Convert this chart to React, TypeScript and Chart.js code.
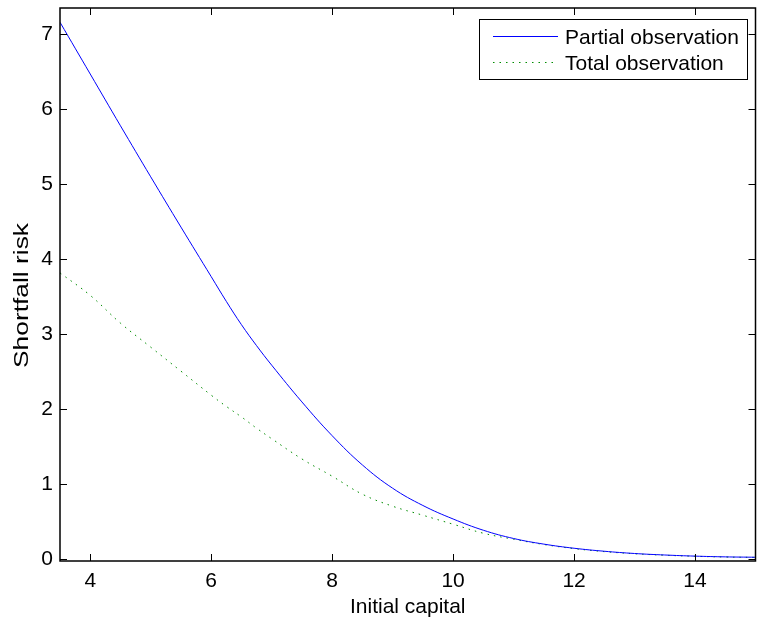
import { useEffect, useRef } from 'react';
import { Chart, registerables } from 'chart.js';

Chart.register(...registerables);

const capital = [3.5, 4, 4.5, 5, 5.5, 6, 6.25, 6.5, 6.75, 7, 7.5, 8, 8.5, 9, 9.5, 10, 10.5, 11, 11.5, 12, 12.5, 13, 13.5, 14, 14.5, 15];
const partialObs = [7.16, 6.47, 5.78, 5.1, 4.43, 3.77, 3.44, 3.13, 2.85, 2.59, 2.1, 1.65, 1.26, 0.95, 0.72, 0.54, 0.39, 0.28, 0.205, 0.15, 0.11, 0.08, 0.06, 0.045, 0.035, 0.03];
const totalObs = [3.82, 3.52, 3.15, 2.83, 2.51, 2.19, 2.04, 1.9, 1.75, 1.61, 1.34, 1.11, 0.87, 0.71, 0.59, 0.47, 0.35, 0.27, 0.2, 0.145, 0.105, 0.077, 0.057, 0.043, 0.033, 0.028];
const xTicks = [4, 6, 8, 10, 12, 14];
const yTicks = [0, 1, 2, 3, 4, 5, 6, 7];
const seriesNames = ['Partial observation', 'Total observation'];
const axisTitles = { x: 'Initial capital', y: 'Shortfall risk' };

const FONT = '"Liberation Sans", Arial, Helvetica, sans-serif';

const framePlugin = {
  id: 'frame',
  afterDatasetsDraw(chart: any) {
    const { ctx, chartArea } = chart;
    const { left, right, top, bottom } = chartArea;
    const xs = chart.scales.x;
    const ys = chart.scales.y;
    const tl = 7;
    ctx.save();
    ctx.strokeStyle = '#000';
    ctx.lineWidth = 1;
    ctx.beginPath();
    xTicks.forEach((v) => {
      const px = Math.round(xs.getPixelForValue(v)) + 0.5;
      ctx.moveTo(px, bottom);
      ctx.lineTo(px, bottom - tl);
      ctx.moveTo(px, top);
      ctx.lineTo(px, top + tl);
    });
    yTicks.forEach((v) => {
      const py = Math.round(ys.getPixelForValue(v)) + 0.5;
      ctx.moveTo(left, py);
      ctx.lineTo(left + tl, py);
      ctx.moveTo(right, py);
      ctx.lineTo(right - tl, py);
    });
    ctx.stroke();
    ctx.lineWidth = 1.5;
    ctx.strokeRect(left, top, right - left, bottom - top);

    // y axis title (stretched like the reference rendering)
    ctx.save();
    ctx.font = `21px ${FONT}`;
    ctx.fillStyle = '#000';
    ctx.textAlign = 'center';
    ctx.textBaseline = 'alphabetic';
    ctx.translate(28, (top + bottom) / 2 + 11);
    ctx.rotate(-Math.PI / 2);
    const w = ctx.measureText(axisTitles.y).width;
    ctx.scale(145 / w, 1);
    ctx.fillText(axisTitles.y, 0, 0);
    ctx.restore();

    // legend
    const bx = 479.5, by = 19.5, bw = 268, bh = 60;
    ctx.fillStyle = '#fff';
    ctx.fillRect(bx, by, bw, bh);
    ctx.lineWidth = 1;
    ctx.strokeStyle = '#000';
    ctx.strokeRect(bx, by, bw, bh);
    const rows = [
      { y: 36, text: 44 },
      { y: 62, text: 70 },
    ];
    chart.data.datasets.forEach((ds: any, i: number) => {
      const r = rows[i];
      ctx.save();
      ctx.strokeStyle = ds.borderColor;
      ctx.lineWidth = ds.borderWidth;
      ctx.setLineDash(ds.borderDash || []);
      ctx.beginPath();
      ctx.moveTo(493, r.y + 0.5);
      ctx.lineTo(558, r.y + 0.5);
      ctx.stroke();
      ctx.restore();
      ctx.fillStyle = '#000';
      ctx.font = `21px ${FONT}`;
      ctx.textBaseline = 'alphabetic';
      ctx.textAlign = 'left';
      ctx.fillText(ds.label, 565, r.text);
    });
    ctx.restore();
  },
};

export default function App() {
  const ref = useRef<HTMLCanvasElement | null>(null);
  useEffect(() => {
    if (!ref.current) return;
    const chart = new Chart(ref.current, {
      type: 'line',
      data: {
        labels: capital,
        datasets: [
          {
            label: seriesNames[0],
            data: capital.map((c, i) => ({ x: c, y: partialObs[i] })),
            borderColor: 'rgb(0,0,255)',
            borderWidth: 1,
            pointRadius: 0,
            tension: 0.4,
          },
          {
            label: seriesNames[1],
            data: capital.map((c, i) => ({ x: c, y: totalObs[i] })),
            borderColor: 'rgb(0,140,0)',
            borderWidth: 1,
            borderDash: [1.5, 5],
            pointRadius: 0,
            tension: 0.4,
          },
        ],
      },
      options: {
        animation: false,
        responsive: false,
        maintainAspectRatio: false,
        layout: { padding: { top: 8, right: 1.5, left: 0, bottom: 0 } },
        plugins: { legend: { display: false }, tooltip: { enabled: false } },
        scales: {
          x: {
            type: 'linear',
            min: 3.5,
            max: 15,
            grid: { display: false, drawTicks: false },
            border: { display: false },
            afterBuildTicks: (s: any) => {
              s.ticks = xTicks.map((v) => ({ value: v }));
            },
            afterFit: (s: any) => {
              s.height = 59;
              s.paddingLeft = 0;
              s.paddingRight = 0;
            },
            ticks: { color: '#000', font: { family: FONT, size: 21 }, padding: 8, maxRotation: 0, autoSkip: false },
            title: { display: true, text: axisTitles.x, color: '#000', font: { family: FONT, size: 21 }, padding: { top: 0, bottom: 0 } },
          },
          y: {
            type: 'linear',
            min: -0.02,
            max: 7.35,
            grid: { display: false, drawTicks: false },
            border: { display: false },
            afterBuildTicks: (s: any) => {
              s.ticks = yTicks.map((v) => ({ value: v }));
            },
            afterFit: (s: any) => {
              s.width = 60;
              s.paddingTop = 0;
              s.paddingBottom = 0;
            },
            ticks: { color: '#000', font: { family: FONT, size: 21 }, padding: 7, autoSkip: false },
            title: { display: false },
          },
        },
      },
      plugins: [framePlugin],
    } as any);
    return () => chart.destroy();
  }, []);
  return (
    <div style={{ position: 'absolute', left: 0, top: 0, width: 757, height: 620, background: '#fff' }}>
      <canvas ref={ref} width={757} height={620} style={{ width: 757, height: 620, display: 'block' }} />
    </div>
  );
}
